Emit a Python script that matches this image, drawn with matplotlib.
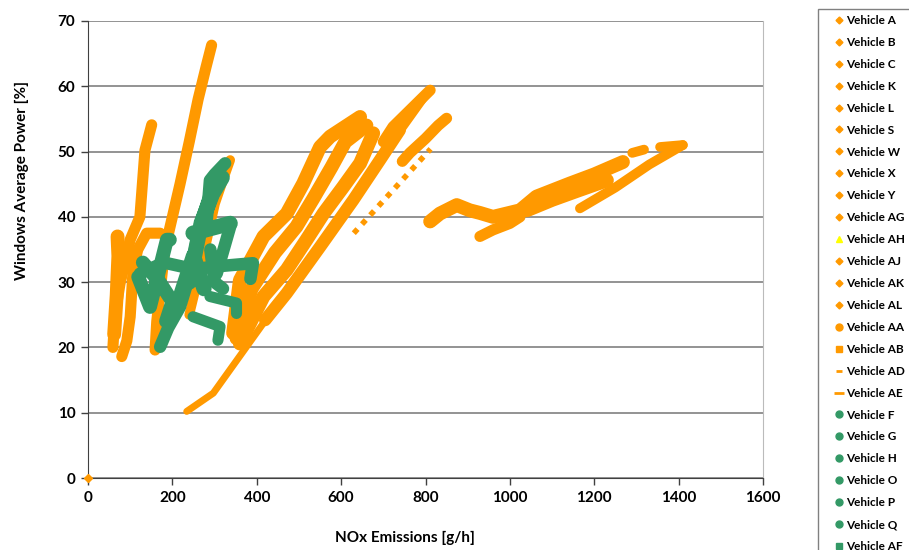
import matplotlib
matplotlib.use("Agg")
import matplotlib.pyplot as plt
from matplotlib.lines import Line2D
from matplotlib.patches import Rectangle
import numpy as np

ORANGE = "#FF9900"
GREEN = "#339966"
YELLOW = "#FFFF00"
nan = np.nan

x_ticks = [0, 200, 400, 600, 800, 1000, 1200, 1400, 1600]
y_ticks = [0, 10, 20, 30, 40, 50, 60, 70]

# Moving-window tracks: NOx [g/h] vs. window average power [%]
# (nan separates the individual trips of one vehicle)
veh_a_x = [159, 163, 170, 182, 200, 218, 240, 261, 280, 293]
veh_a_y = [19.6, 24, 28, 35, 40, 45, 51.5, 58, 63, 66.3]
veh_b_x = [59, 64, 76, 100, 123, 135, 151]
veh_b_y = [20, 25, 29.8, 36.5, 40, 50.2, 54.1]
veh_c_x = [80, 92, 100, 107, 118, 139, 171]
veh_c_y = [18.6, 21, 24.7, 32, 35, 37.5, 37.5]
veh_k_x = [240, 270, 301, 320, 337]
veh_k_y = [25, 33, 42, 45.6, 48.7]
veh_l_x = [62, 68, 72, 70, nan, 352, 388, 443, 494, 534, 577, 610, 660]
veh_l_y = [22, 28, 34, 37, nan, 21.4, 29, 34.5, 38.5, 42.8, 47.6, 51.5, 54]
veh_s_x = [344, 360, 416, 471, 510, 550, 574, 645]
veh_s_y = [22.2, 30.3, 37.0, 40.5, 45.1, 50.7, 52.3, 55.3]
veh_w_x = [360, 416, 471, 518, 558, 605, 645, 676]
veh_w_y = [20.6, 27.8, 31.9, 36.5, 40.5, 44.6, 48.2, 52.8]
veh_x_x = [420, 471, 550, 629, 692, 739]
veh_x_y = [24.2, 28.3, 35.4, 42.6, 48.7, 53.3]
veh_y_x = [0, nan, 700, 723, 811]
veh_y_y = [0, nan, 51.5, 53.8, 59.4]
veh_ag_x = [745, 763, 800, 830, 850]
veh_ag_y = [48.5, 49.8, 52, 54, 55.1]
veh_ah_x = []
veh_ah_y = []
veh_aj_x = [811, 834, 874, 905, 929, 960, 1024, 1063, 1142, 1200, 1268,
            nan, 1040, 1100, 1160, 1230]
veh_aj_y = [39.3, 40.5, 41.8, 41, 40.6, 40, 41, 43.1, 45.1, 46.5, 48.4,
            nan, 41.0, 42.6, 44.0, 45.6]
veh_ak_x = [1166, 1250, 1330, 1410]
veh_ak_y = [41.3, 44.5, 48, 51]
veh_al_x = [929, 960, 1000, 1024]
veh_al_y = [37, 38, 39, 40]
veh_aa_x = [1290, 1318]
veh_aa_y = [49.8, 50.3]
veh_ab_x = [1356, 1410]
veh_ab_y = [50.7, 51]
veh_ad_x = [630, 812]
veh_ad_y = [37.5, 50.4]
veh_ae_x = [234, 297, 811]
veh_ae_y = [10.2, 13, 59.4]

veh_f_x = [171, 190, 218, 242, 258, 281, 289, 300, 325]
veh_f_y = [20.1, 23, 26.2, 31.3, 36.5, 39, 45.6, 46.5, 48.2]
veh_g_x = [123, 180, 250, 320, 391, 385]
veh_g_y = [31.3, 33, 32, 32.5, 32.9, 30.5]
veh_h_x = [305, 337, nan, 290, 300, 320]
veh_h_y = [31.3, 38.5, nan, 35, 30, 29]
veh_o_x = [289, 352, 352]
veh_o_y = [27.8, 26.8, 25.2]
veh_p_x = [249, 313, 308]
veh_p_y = [24.7, 23.2, 21.1]
veh_q_x = [119, 147, 187, 194, nan, 130, 170, 200, 185]
veh_q_y = [30.8, 26.2, 36.5, 36.5, nan, 33, 30, 27, 24]
veh_af_x = [249, 337, nan, 240, 265, 285, 300, nan, 220, 250, 275,
            nan, 268, 295, 318]
veh_af_y = [37.5, 39, nan, 30, 38, 42, 45, nan, 28, 34, 29,
            nan, 39, 43.5, 46]

plt.rcParams["font.family"] = ["Lato", "DejaVu Sans"]
plt.rcParams["font.weight"] = "bold"

fig = plt.figure(figsize=(9.09, 5.5), dpi=100)
ax = fig.add_axes([88 / 909, 72 / 550, 675 / 909, 457 / 550])

orange_tracks = [
    (veh_a_x, veh_a_y, 8), (veh_b_x, veh_b_y, 8), (veh_c_x, veh_c_y, 8),
    (veh_k_x, veh_k_y, 7), (veh_l_x, veh_l_y, 10), (veh_s_x, veh_s_y, 10),
    (veh_w_x, veh_w_y, 10), (veh_x_x, veh_x_y, 9), (veh_y_x, veh_y_y, 8),
    (veh_ag_x, veh_ag_y, 8), (veh_aj_x, veh_aj_y, 10), (veh_ak_x, veh_ak_y, 7),
    (veh_al_x, veh_al_y, 8), (veh_aa_x, veh_aa_y, 7), (veh_ab_x, veh_ab_y, 7),
]
for xs, ys, w in orange_tracks:
    ax.plot(xs, ys, color=ORANGE, lw=w, solid_capstyle="round",
            solid_joinstyle="round", zorder=3)
ax.plot(veh_ae_x, veh_ae_y, color=ORANGE, lw=5, solid_capstyle="round", zorder=3)
ax.plot(veh_ad_x, veh_ad_y, color=ORANGE, lw=4, ls=(0, (1, 1.2)), zorder=3)
ax.plot(veh_y_x[:1], veh_y_y[:1], marker="D", ms=4, color=ORANGE, ls="none",
        zorder=5, clip_on=False)

green_tracks = [
    (veh_f_x, veh_f_y, 9), (veh_g_x, veh_g_y, 9), (veh_h_x, veh_h_y, 9),
    (veh_o_x, veh_o_y, 8), (veh_p_x, veh_p_y, 8), (veh_q_x, veh_q_y, 10),
    (veh_af_x, veh_af_y, 11),
]
for xs, ys, w in green_tracks:
    ax.plot(xs, ys, color=GREEN, lw=w, solid_capstyle="round",
            solid_joinstyle="round", zorder=4)

ax.set_xlim(0, 1600)
ax.set_ylim(0, 70)
ax.set_xticks(x_ticks)
ax.set_yticks(y_ticks)
ax.yaxis.grid(True, color="#808080", lw=1.2)
ax.set_axisbelow(True)
ax.spines["top"].set_visible(False)
ax.spines["right"].set_color("#BBBBBB")
ax.spines["left"].set_color("#404040")
ax.spines["bottom"].set_color("#404040")
ax.tick_params(direction="out", length=5, width=1, color="#404040",
               labelsize=11, pad=4)
for lab in ax.get_xticklabels() + ax.get_yticklabels():
    lab.set_fontweight("bold")
ax.set_xlabel("NOx Emissions [g/h]", fontsize=11, fontweight="bold")
ax.xaxis.set_label_coords((405 - 88) / 675, -0.115)
ax.set_ylabel("Windows Average Power [%]", fontsize=11, fontweight="bold")
ax.yaxis.set_label_coords(-0.088, (478 - 180) / 457)

labels = ["Vehicle A", "Vehicle B", "Vehicle C", "Vehicle K", "Vehicle L",
          "Vehicle S", "Vehicle W", "Vehicle X", "Vehicle Y", "Vehicle AG",
          "Vehicle AH", "Vehicle AJ", "Vehicle AK", "Vehicle AL", "Vehicle AA",
          "Vehicle AB", "Vehicle AD", "Vehicle AE", "Vehicle F", "Vehicle G",
          "Vehicle H", "Vehicle O", "Vehicle P", "Vehicle Q", "Vehicle AF"]
handles = []
for lab in labels:
    if lab == "Vehicle AH":
        h = Line2D([], [], ls="none", marker="^", ms=5, color=YELLOW)
    elif lab == "Vehicle AA":
        h = Line2D([], [], ls="none", marker="o", ms=5, color=ORANGE)
    elif lab == "Vehicle AB":
        h = Line2D([], [], ls="none", marker="s", ms=4.5, color=ORANGE)
    elif lab == "Vehicle AD":
        h = Line2D([], [], ls="none", marker="_", ms=4, mew=2, color=ORANGE)
    elif lab == "Vehicle AE":
        h = Line2D([], [], ls="none", marker="_", ms=7, mew=2, color=ORANGE)
    elif lab == "Vehicle AF":
        h = Line2D([], [], ls="none", marker="s", ms=5, color=GREEN)
    elif lab in ("Vehicle F", "Vehicle G", "Vehicle H", "Vehicle O",
                 "Vehicle P", "Vehicle Q"):
        h = Line2D([], [], ls="none", marker="o", ms=5, color=GREEN)
    else:
        h = Line2D([], [], ls="none", marker="D", ms=3.5, color=ORANGE)
    handles.append(h)

# legend box outline, running off the lower and right edges
fig.add_artist(Rectangle((818 / 909, -0.1), 0.2, 1.1 - 9 / 550,
                         transform=fig.transFigure, fill=False,
                         edgecolor="#808080", lw=1))
leg = fig.legend(handles, labels, loc="upper left",
                 bbox_to_anchor=(834 / 909, 1 - 15 / 550),
                 frameon=False, prop={"size": 8.5, "weight": "bold"},
                 labelspacing=0.925, handlelength=0.8, handletextpad=0.25,
                 borderpad=0, borderaxespad=0)

fig.savefig("out.png", dpi=100)
